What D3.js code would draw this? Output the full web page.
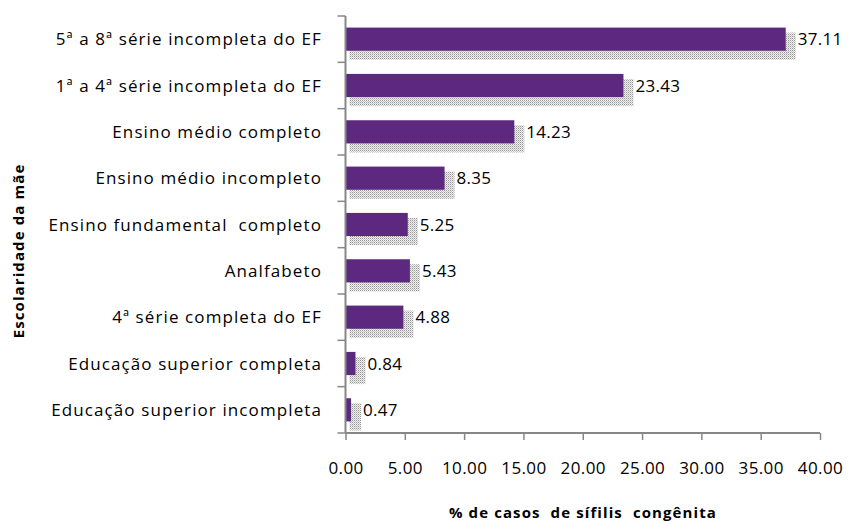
<!DOCTYPE html>
<html>
<head>
<meta charset="utf-8">
<script src="https://cdn.jsdelivr.net/npm/d3@7"></script>
<style>
  html, body { margin: 0; padding: 0; background: #fff; }
  svg { display: block; }
  text { font-family: "Open Sans", "Liberation Sans", sans-serif; fill: #000; }
</style>
</head>
<body>
<svg id="chart" width="848" height="521"></svg>
<script>
// Escolaridade da mãe — % de casos de sífilis congênita
const categories = [
  "5ª a 8ª série incompleta do EF",
  "1ª a 4ª série incompleta do EF",
  "Ensino médio completo",
  "Ensino médio incompleto",
  "Ensino fundamental  completo",
  "Analfabeto",
  "4ª série completa do EF",
  "Educação superior completa",
  "Educação superior incompleta"
];
const values = [37.11, 23.43, 14.23, 8.35, 5.25, 5.43, 4.88, 0.84, 0.47];
const xTicks = [0, 5, 10, 15, 20, 25, 30, 35, 40];
const xTitle = "% de casos  de sífilis  congênita";
const yTitle = "Escolaridade da mãe";

const svg = d3.select("#chart");
const plot = { left: 345.5, right: 820, top: 16, bottom: 433 };

const x = d3.scaleLinear().domain([0, 40]).range([plot.left, plot.right]);
const y = d3.scaleBand().domain(categories).range([plot.top, plot.bottom]).paddingInner(0.5).paddingOuter(0.25);

// stippled grey texture for the drop shadow
const defs = svg.append("defs");
const pat = defs.append("pattern").attr("id", "stipple")
  .attr("patternUnits", "userSpaceOnUse").attr("width", 2).attr("height", 2);
pat.append("rect").attr("width", 2).attr("height", 2).attr("fill", "#f0f0f0");
pat.append("rect").attr("width", 1).attr("height", 1).attr("fill", "#979797");
pat.append("rect").attr("x", 1).attr("y", 1).attr("width", 1).attr("height", 1).attr("fill", "#c6c6c6");
defs.append("filter").attr("id", "soft").attr("x", "-10%").attr("y", "-30%").attr("width", "120%").attr("height", "160%")
  .append("feGaussianBlur").attr("stdDeviation", 0.5);

const rows = svg.append("g").selectAll("g").data(values).join("g");

rows.append("rect")
  .attr("x", x(0) + 4)
  .attr("y", (d, i) => y(categories[i]) + 5)
  .attr("width", d => x(d) - x(0) + 6)
  .attr("height", y.bandwidth() + 4)
  .attr("fill", "url(#stipple)")
  .attr("filter", "url(#soft)");

rows.append("rect")
  .attr("x", x(0))
  .attr("y", (d, i) => y(categories[i]))
  .attr("width", d => x(d) - x(0))
  .attr("height", y.bandwidth())
  .attr("fill", "#5c2880");

rows.append("text")
  .attr("x", d => x(d) + 12)
  .attr("y", (d, i) => y(categories[i]) + y.bandwidth() / 2)
  .attr("dy", "0.36em")
  .attr("font-size", 17)
  .attr("letter-spacing", 0.3)
  .text(d => d.toFixed(2));

// y axis: category boundaries carry the ticks
const yAxisG = svg.append("g");
yAxisG.append("line")
  .attr("x1", plot.left).attr("x2", plot.left)
  .attr("y1", plot.top).attr("y2", plot.bottom)
  .attr("stroke", "#878787").attr("stroke-width", 2);
const bounds = d3.range(categories.length + 1).map(i => plot.top + i * (plot.bottom - plot.top) / categories.length);
yAxisG.selectAll("line.tick").data(bounds).join("line").attr("class", "tick")
  .attr("x1", plot.left - 8).attr("x2", plot.left)
  .attr("y1", d => d).attr("y2", d => d)
  .attr("stroke", "#878787").attr("stroke-width", 1.5);
yAxisG.selectAll("text").data(categories).join("text")
  .attr("x", 322)
  .attr("y", d => y(d) + y.bandwidth() / 2)
  .attr("dy", "0.36em")
  .attr("text-anchor", "end")
  .attr("font-size", 17)
  .attr("letter-spacing", 1.1)
  .style("white-space", "pre")
  .text(d => d);

// x axis
const xAxis = d3.axisBottom(x).tickValues(xTicks).tickSize(7).tickPadding(22)
  .tickFormat(d => d.toFixed(2));
const xg = svg.append("g").attr("transform", `translate(0,${plot.bottom})`).call(xAxis);
xg.select(".domain").attr("stroke", "#878787").attr("stroke-width", 2).attr("d", `M${plot.left},0H${plot.right}`);
xg.selectAll(".tick line").attr("stroke", "#878787").attr("stroke-width", 1.5);
xg.selectAll(".tick text").attr("font-size", 17).attr("letter-spacing", 0.4)
  .attr("font-family", "Open Sans, Liberation Sans, sans-serif").attr("fill", "#000");

svg.append("text")
  .attr("x", 583).attr("y", 518)
  .attr("text-anchor", "middle")
  .attr("font-size", 15).attr("font-weight", "bold")
  .attr("letter-spacing", 1.1)
  .style("white-space", "pre")
  .text(xTitle);

svg.append("text")
  .attr("transform", "translate(24,251) rotate(-90)")
  .attr("text-anchor", "middle")
  .attr("font-size", 15).attr("font-weight", "bold")
  .attr("letter-spacing", 1.1)
  .text(yTitle);
</script>
</body>
</html>
